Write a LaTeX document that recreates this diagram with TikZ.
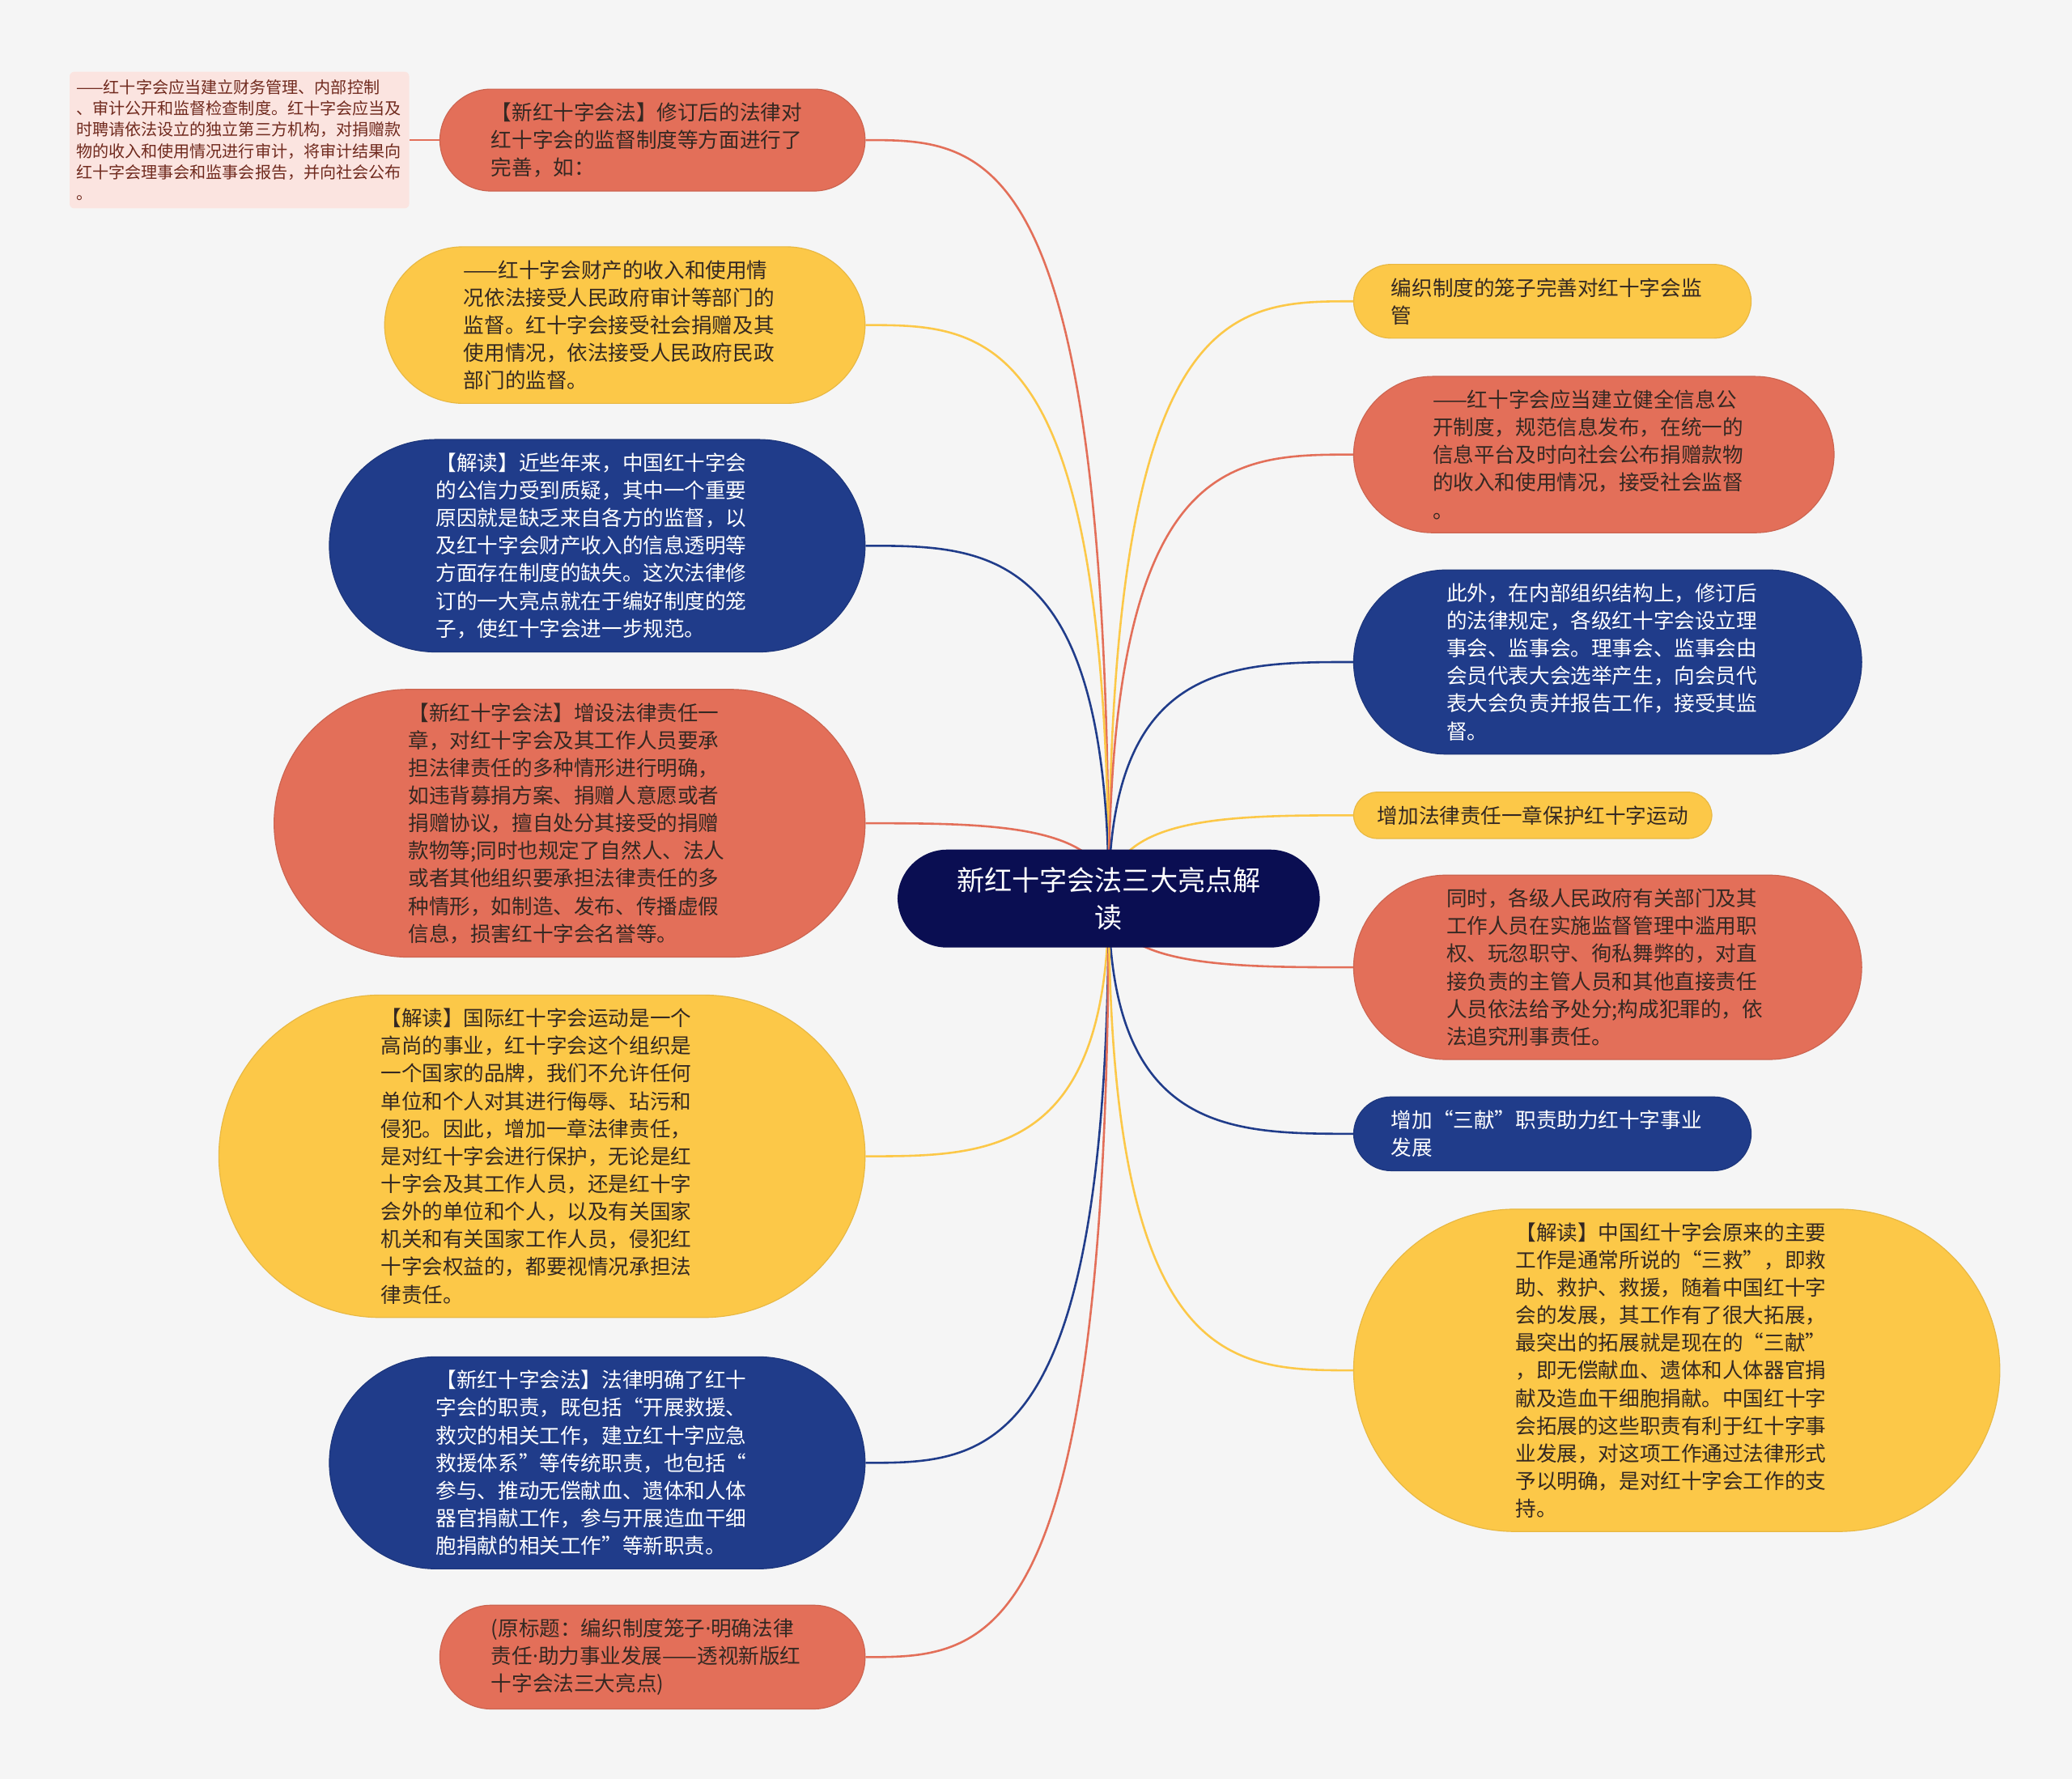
\documentclass[tikz,border=0pt]{standalone}
\usepackage{fontspec}
\setmainfont{Noto Sans CJK SC}
\newfontfamily\latinfont{Noto Sans}
\usepackage{xcolor}
\usepackage{tikz}
\usetikzlibrary{calc}
\definecolor{fondo}{RGB}{245,245,245}
\definecolor{coral}{RGB}{227,111,89}
\definecolor{ambar}{RGB}{252,200,72}
\definecolor{anil}{RGB}{32,60,138}
\definecolor{marino}{RGB}{10,14,82}
\definecolor{rosado}{RGB}{251,228,224}
\definecolor{ladrillo}{RGB}{112,42,30}
\definecolor{tinta}{RGB}{52,40,34}
\newcommand{\pto}{{\latinfont ·}}

\begin{document}
\begin{tikzpicture}[x=0.02cm, y=-0.02cm,
  pill/.style={rectangle, rounded corners={(5.95*#1+4.2)*1pt}, inner xsep={(5.95*#1+4.3)*1pt}, inner ysep=5.8pt, text width=4.88cm, align=left, line width=0.4pt, font=\fontsize{8.92}{11.9}\selectfont},
  rojo/.style={pill=#1, fill=coral, draw=coral!90!black, text=tinta},
  amarillo/.style={pill=#1, fill=ambar, draw=ambar!92!black, text=tinta},
  azul/.style={pill=#1, fill=anil, draw=anil!90!black, text=white},
  link/.style={draw=#1, line width=0.9pt}]
  \fill[fondo] (0,0) rectangle (1568,1346);
  \node[rojo=3, anchor=east] (L1) at (655,106) {【新红十字会法】修订后的法律对\\红十字会的监督制度等方面进行了\\完善，如：};
  \node[amarillo=5, anchor=east] (L2) at (655,246) {——红十字会财产的收入和使用情\\况依法接受人民政府审计等部门的\\监督。红十字会接受社会捐赠及其\\使用情况，依法接受人民政府民政\\部门的监督。};
  \node[azul=7, anchor=east] (L3) at (655,413) {【解读】近些年来，中国红十字会\\的公信力受到质疑，其中一个重要\\原因就是缺乏来自各方的监督，以\\及红十字会财产收入的信息透明等\\方面存在制度的缺失。这次法律修\\订的一大亮点就在于编好制度的笼\\子，使红十字会进一步规范。};
  \node[rojo=9, anchor=east] (L4) at (655,623) {【新红十字会法】增设法律责任一\\章，对红十字会及其工作人员要承\\担法律责任的多种情形进行明确，\\如违背募捐方案、捐赠人意愿或者\\捐赠协议，擅自处分其接受的捐赠\\款物等;同时也规定了自然人、法人\\或者其他组织要承担法律责任的多\\种情形，如制造、发布、传播虚假\\信息，损害红十字会名誉等。};
  \node[amarillo=11, anchor=east] (L5) at (655,875) {【解读】国际红十字会运动是一个\\高尚的事业，红十字会这个组织是\\一个国家的品牌，我们不允许任何\\单位和个人对其进行侮辱、玷污和\\侵犯。因此，增加一章法律责任，\\是对红十字会进行保护，无论是红\\十字会及其工作人员，还是红十字\\会外的单位和个人，以及有关国家\\机关和有关国家工作人员，侵犯红\\十字会权益的，都要视情况承担法\\律责任。};
  \node[azul=7, anchor=east] (L6) at (655,1107) {【新红十字会法】法律明确了红十\\字会的职责，既包括“开展救援、\\救灾的相关工作，建立红十字应急\\救援体系”等传统职责，也包括“\\参与、推动无偿献血、遗体和人体\\器官捐献工作，参与开展造血干细\\胞捐献的相关工作”等新职责。};
  \node[rojo=3, anchor=east] (L7) at (655,1254) {(原标题：编织制度笼子\pto 明确法律\\责任\pto 助力事业发展——透视新版红\\十字会法三大亮点)};
  \node[rectangle, rounded corners=2pt, fill=rosado, text=ladrillo, inner xsep=0.1cm, inner ysep=3.5pt, text width=4.94cm, align=left, font=\fontsize{7}{9.1}\selectfont, anchor=east] (hoja) at (310,106) {——红十字会应当建立财务管理、内部控制\\、审计公开和监督检查制度。红十字会应当及\\时聘请依法设立的独立第三方机构，对捐赠款\\物的收入和使用情况进行审计，将审计结果向\\红十字会理事会和监事会报告，并向社会公布\\。};
  \node[amarillo=2, anchor=west] (R1) at (1024,228) {编织制度的笼子完善对红十字会监\\管};
  \node[rojo=5, anchor=west] (R2) at (1024,344) {——红十字会应当建立健全信息公\\开制度，规范信息发布，在统一的\\信息平台及时向社会公布捐赠款物\\的收入和使用情况，接受社会监督\\。};
  \node[azul=6, anchor=west] (R3) at (1024,501) {此外，在内部组织结构上，修订后\\的法律规定，各级红十字会设立理\\事会、监事会。理事会、监事会由\\会员代表大会选举产生，向会员代\\表大会负责并报告工作，接受其监\\督。};
  \node[amarillo=1, text width=, anchor=west] (R4) at (1024,617) {增加法律责任一章保护红十字运动};
  \node[rojo=6, anchor=west] (R5) at (1024,732) {同时，各级人民政府有关部门及其\\工作人员在实施监督管理中滥用职\\权、玩忽职守、徇私舞弊的，对直\\接负责的主管人员和其他直接责任\\人员依法给予处分;构成犯罪的，依\\法追究刑事责任。};
  \node[azul=2, anchor=west] (R6) at (1024,858) {增加“三献”职责助力红十字事业\\发展};
  \node[amarillo=11, anchor=west] (R7) at (1024,1037) {【解读】中国红十字会原来的主要\\工作是通常所说的“三救”，即救\\助、救护、救援，随着中国红十字\\会的发展，其工作有了很大拓展，\\最突出的拓展就是现在的“三献”\\，即无偿献血、遗体和人体器官捐\\献及造血干细胞捐献。中国红十字\\会拓展的这些职责有利于红十字事\\业发展，对这项工作通过法律形式\\予以明确，是对红十字会工作的支\\持。};
  \coordinate (hub) at (839,680);
  \foreach \n/\c in {L1/coral, L2/ambar, L3/anil, L4/coral, L5/ambar, L6/anil, L7/coral}
    \draw[link=\c] (hub) .. controls (hub |- \n.east) and ($(hub |- \n.east)!0.5!(\n.east)$) .. (\n.east);
  \foreach \n/\c in {R1/ambar, R2/coral, R3/anil, R4/ambar, R5/coral, R6/anil, R7/ambar}
    \draw[link=\c] (hub) .. controls (hub |- \n.west) and ($(hub |- \n.west)!0.5!(\n.west)$) .. (\n.west);
  \draw[link=coral] (hoja.east) -- (L1.west);
  \node[rectangle, rounded corners=21.4pt, fill=marino, text=white, inner xsep=21.5pt, inner ysep=7.6pt, text width=4.88cm, align=center, font=\fontsize{11.9}{15.9}\selectfont] (raiz) at (hub) {新红十字会法三大亮点解\\读};
\end{tikzpicture}
\end{document}
